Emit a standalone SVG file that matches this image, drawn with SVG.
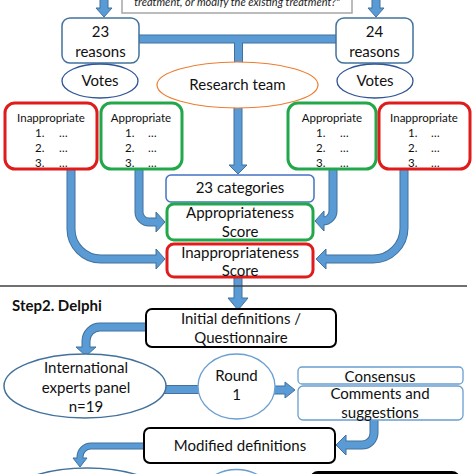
<svg xmlns="http://www.w3.org/2000/svg" width="474" height="474" viewBox="0 0 474 474">
<style>
text{font-family:Lato,"Open Sans","Liberation Sans",sans-serif;fill:#111;font-size:15px;text-anchor:middle}
.sm{font-size:11.5px}
.st{text-anchor:start}
.it{font-style:italic;font-size:11px;fill:#222}
.bd{font-weight:bold;font-size:15px;text-anchor:start}
.bx{fill:#fff}
.blue{stroke:#41719c;stroke-width:1.5}
.lblue{stroke:#6a9fd0;stroke-width:1.3}
.red{stroke:#e01b1b;stroke-width:3}
.green{stroke:#22a84a;stroke-width:3}
.blk{stroke:#000;stroke-width:2}
.so{fill:none;stroke:#41719c;stroke-width:9}
.si{fill:none;stroke:#5b9bd5;stroke-width:7}
.so2{fill:none;stroke:#41719c;stroke-width:7}
.si2{fill:none;stroke:#5b9bd5;stroke-width:5}
.hd{fill:#5b9bd5;stroke:#41719c;stroke-width:1;stroke-linejoin:round}
</style>
<rect width="474" height="474" fill="#fff"/>
<g id="connectors">
  <path class="so" d="M104,-5 V8.5"/><polygon class="hd" points="96,8 112,8 104,17"/><path class="si" d="M104,-5 V10"/>
  <path class="so" d="M376,-5 V8.5"/><polygon class="hd" points="368,8 384,8 376,17"/><path class="si" d="M376,-5 V10"/>
  <path class="so" d="M139,39 H336 M238.5,39 V63"/>
  <path class="si" d="M138,39 H337 M238.5,39 V64"/>
  <path class="so" d="M238,107 V165.5"/><polygon class="hd" points="229,165 247,165 238,174"/><path class="si" d="M238,107 V167"/>
  <path class="so" d="M139,169 V212 A10,10 0 0 0 149,222 H156.5"/><polygon class="hd" points="156,212 156,232 165,222"/><path class="si" d="M139,169 V212 A10,10 0 0 0 149,222 H158"/>
  <path class="so" d="M71,169 V229 A30,30 0 0 0 101,259 H156.5"/><polygon class="hd" points="156,249 156,269 165,259"/><path class="si" d="M71,169 V229 A30,30 0 0 0 101,259 H158"/>
  <path class="so" d="M333,169 V211 A10,10 0 0 1 323,221 H323.5"/><polygon class="hd" points="324,211 324,231 315,221"/><path class="si" d="M333,169 V211 A10,10 0 0 1 323,221 H322"/>
  <path class="so" d="M404,169 V228 A31,31 0 0 1 373,259 H325.5"/><polygon class="hd" points="326,249 326,269 316,259"/><path class="si" d="M404,169 V228 A31,31 0 0 1 373,259 H324"/>
  <path class="so" d="M238,278 V298.5"/><polygon class="hd" points="228,298 248,298 238,310"/><path class="si" d="M238,278 V300"/>
  <path class="so" d="M147,327 H100 A14,14 0 0 0 86,341 V347.5"/><polygon class="hd" points="76,347 96,347 86,356"/><path class="si" d="M147,327 H100 A14,14 0 0 0 86,341 V349"/>
  <path class="so" d="M164,389.5 H200"/><path class="si" d="M163,389.5 H201"/>
  <path class="so" d="M274,390 H285.5"/><polygon class="hd" points="285,382 285,398 295,390"/><path class="si" d="M274,390 H287"/>
  <path class="so" d="M374,419 V433 A12,12 0 0 1 362,445 H345.5"/><polygon class="hd" points="346,435 346,455 336,445"/><path class="si" d="M374,419 V433 A12,12 0 0 1 362,445 H344"/>
  <path class="so2" d="M145,446 H91 A11,11 0 0 0 80,457 V458.5"/><polygon class="hd" points="73,458 87,458 80,467"/><path class="si2" d="M145,446 H91 A11,11 0 0 0 80,457 V460"/>
</g>
<g id="question">
  <rect class="bx" x="122" y="-10" width="230" height="23" fill="#fff" stroke="#a6a6a6" stroke-width="1.5"/>
  <text class="it" x="237" y="6">treatment, or modify the existing treatment?"</text>
</g>
<g id="reasons23">
  <rect class="bx blue" x="62" y="18" width="77" height="45" rx="8"/>
  <text x="100.5" y="37">23</text><text x="100.5" y="57">reasons</text>
</g>
<g id="reasons24">
  <rect class="bx blue" x="336" y="18" width="77" height="45" rx="8"/>
  <text x="374.5" y="37">24</text><text x="374.5" y="57">reasons</text>
</g>
<g id="votes-left">
  <ellipse class="bx" cx="100" cy="81" rx="38" ry="17" stroke="#2f5597" stroke-width="1.3"/>
  <text x="100" y="86">Votes</text>
</g>
<g id="votes-right">
  <ellipse class="bx" cx="375" cy="81" rx="38" ry="17" stroke="#2f5597" stroke-width="1.3"/>
  <text x="375" y="86">Votes</text>
</g>
<g id="research-team">
  <ellipse class="bx" cx="237.5" cy="85" rx="80.5" ry="23" stroke="#ed7d31" stroke-width="1.2"/>
  <text x="237.5" y="90">Research team</text>
</g>
<g id="inapp-left">
  <rect class="bx red" x="5" y="103" width="92" height="66" rx="10"/>
  <text class="sm" x="51" y="122">Inappropriate</text>
  <text class="sm st" x="35" y="137">1.</text><text class="sm st" x="59" y="137">…</text>
  <text class="sm st" x="35" y="152">2.</text><text class="sm st" x="59" y="152">…</text>
  <text class="sm st" x="35" y="167">3.</text><text class="sm st" x="59" y="167">…</text>
</g>
<g id="app-left">
  <rect class="bx green" x="101" y="103" width="81" height="66" rx="10"/>
  <text class="sm" x="141" y="122">Appropriate</text>
  <text class="sm st" x="125" y="137">1.</text><text class="sm st" x="148" y="137">…</text>
  <text class="sm st" x="125" y="152">2.</text><text class="sm st" x="148" y="152">…</text>
  <text class="sm st" x="125" y="167">3.</text><text class="sm st" x="148" y="167">…</text>
</g>
<g id="app-right">
  <rect class="bx green" x="288" y="103" width="88" height="66" rx="10"/>
  <text class="sm" x="332" y="122">Appropriate</text>
  <text class="sm st" x="316" y="137">1.</text><text class="sm st" x="340" y="137">…</text>
  <text class="sm st" x="316" y="152">2.</text><text class="sm st" x="340" y="152">…</text>
  <text class="sm st" x="316" y="167">3.</text><text class="sm st" x="340" y="167">…</text>
</g>
<g id="inapp-right">
  <rect class="bx red" x="379" y="103" width="91" height="66" rx="10"/>
  <text class="sm" x="424" y="122">Inappropriate</text>
  <text class="sm st" x="408" y="137">1.</text><text class="sm st" x="431" y="137">…</text>
  <text class="sm st" x="408" y="152">2.</text><text class="sm st" x="431" y="152">…</text>
  <text class="sm st" x="408" y="167">3.</text><text class="sm st" x="431" y="167">…</text>
</g>
<g id="categories">
  <rect class="bx" x="166" y="175" width="148" height="27" rx="5" stroke="#4472c4" stroke-width="1.5"/>
  <text x="240" y="193">23 categories</text>
</g>
<g id="app-score">
  <rect class="bx green" x="167" y="204" width="146" height="36" rx="7"/>
  <text x="240" y="218">Appropriateness</text><text x="240" y="237">Score</text>
</g>
<g id="inapp-score">
  <rect class="bx red" x="167" y="244" width="146" height="33" rx="7"/>
  <text x="240" y="258">Inappropriateness</text><text x="240" y="276">Score</text>
</g>
<g id="separator">
  <path d="M0,286 H467" stroke="#404040" stroke-width="1.5"/>
  <text class="bd" x="12" y="311">Step2. Delphi</text>
</g>
<g id="initial-definitions">
  <rect class="bx blk" x="146" y="309" width="190" height="38" rx="6"/>
  <text x="241" y="324">Initial definitions /</text><text x="241" y="343">Questionnaire</text>
</g>
<g id="experts-panel">
  <ellipse class="bx blue" cx="85" cy="386" rx="81" ry="32"/>
  <text x="86" y="373">International</text><text x="86" y="393">experts panel</text><text x="86" y="412">n=19</text>
</g>
<g id="round1">
  <ellipse class="bx lblue" cx="236.5" cy="386.5" rx="38.5" ry="32.5"/>
  <text x="236.5" y="381">Round</text><text x="236.5" y="400">1</text>
</g>
<g id="consensus">
  <rect class="bx lblue" x="298" y="367" width="165" height="17" rx="4"/>
  <text x="380" y="382">Consensus</text>
</g>
<g id="comments">
  <rect class="bx lblue" x="298" y="386" width="165" height="34" rx="5"/>
  <text x="380" y="399">Comments and</text><text x="380" y="418">suggestions</text>
</g>
<g id="modified-definitions">
  <rect class="bx blk" x="144" y="428" width="191" height="35" rx="6"/>
  <text x="240" y="451">Modified definitions</text>
</g>
<g id="experts-panel-2">
  <ellipse class="bx blue" cx="87" cy="500" rx="81" ry="32"/>
</g>
<g id="round2">
  <ellipse class="bx lblue" cx="236.5" cy="502" rx="38.5" ry="32.5"/>
</g>
<g id="result-box">
  <rect x="310" y="471" width="150" height="40" rx="8" fill="#000"/>
</g>
</svg>
